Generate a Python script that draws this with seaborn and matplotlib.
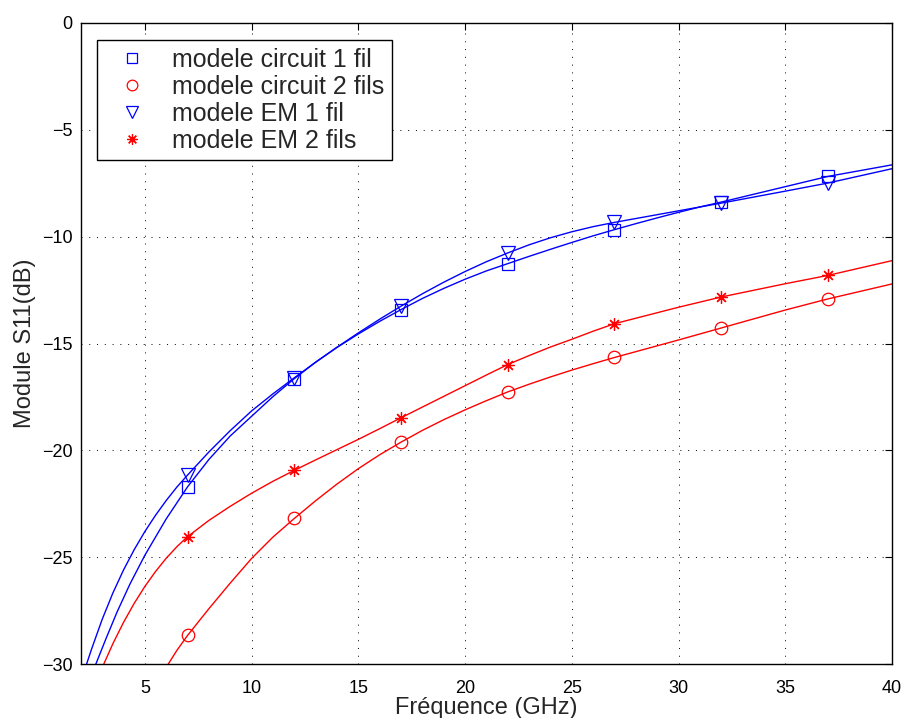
import matplotlib
matplotlib.use("Agg")
import matplotlib.pyplot as plt
from matplotlib.lines import Line2D
import seaborn as sns
import pandas as pd

# ---- data ----
marker_freq = [7, 12, 17, 22, 27, 32, 37]
circuit_1fil_pts = [-21.7, -16.64, -13.41, -11.26, -9.67, -8.38, -7.18]
circuit_2fils_pts = [-28.65, -23.18, -19.61, -17.26, -15.65, -14.27, -12.91]
em_1fil_pts = [-21.15, -16.6, -13.25, -10.76, -9.33, -8.43, -7.49]
em_2fils_pts = [-24.03, -20.93, -18.47, -15.98, -14.07, -12.82, -11.81]

circuit_1fil_freq = [2.7, 3.2, 3.7, 4.3, 5, 6, 7, 8, 9, 10, 11, 12, 13, 14, 15, 16, 17, 18, 19, 20,
                     21, 22, 23, 24, 25, 26, 27, 28, 29, 30, 31, 32, 35, 37, 40]
circuit_1fil_line = [-30.0, -28.75, -27.55, -26.25, -24.9, -23.2, -21.7, -20.42, -19.32, -18.4, -17.48,
                     -16.64, -15.87, -15.18, -14.55, -13.96, -13.41, -12.89, -12.42, -11.99, -11.6,
                     -11.26, -10.92, -10.59, -10.27, -9.96, -9.67, -9.39, -9.12, -8.86, -8.61, -8.38,
                     -7.66, -7.18, -6.64]

circuit_2fils_freq = [6.09, 6.5, 7, 8, 9, 10, 11, 12, 13, 14, 15, 16, 17, 18, 19, 20, 21, 22, 23, 24,
                      25, 26, 27, 30, 32, 35, 37, 40]
circuit_2fils_line = [-30.0, -29.35, -28.65, -27.4, -26.2, -25.05, -24.05, -23.18, -22.35, -21.57,
                      -20.85, -20.2, -19.61, -19.06, -18.56, -18.1, -17.67, -17.26, -16.9, -16.56,
                      -16.24, -15.94, -15.65, -14.83, -14.27, -13.43, -12.91, -12.21]

em_1fil_freq = [2.25, 2.5, 3, 3.5, 4, 4.5, 5, 5.5, 6, 6.5, 7, 8, 9, 10, 11, 12, 13, 14, 15, 16, 17,
                18, 19, 20, 21, 22, 23, 24, 25, 26, 27, 30, 32, 35, 37, 40]
em_1fil_line = [-30.05, -29.3, -27.9, -26.67, -25.59, -24.64, -23.79, -23.03, -22.34, -21.71, -21.15,
                -20.07, -19.07, -18.15, -17.35, -16.6, -15.87, -15.17, -14.5, -13.86, -13.25,
                -12.67, -12.13, -11.63, -11.17, -10.76, -10.38, -10.05, -9.77, -9.53, -9.33,
                -8.79, -8.43, -7.87, -7.49, -6.82]

em_2fils_freq = [3.0, 3.5, 4, 4.5, 5, 5.5, 6, 6.5, 7, 8, 9, 10, 11, 12, 13, 14, 15, 16, 17, 18, 19,
                 20, 21, 22, 23, 24, 25, 26, 27, 30, 32, 35, 37, 40]
em_2fils_line = [-30.16, -29.04, -28.04, -27.15, -26.36, -25.66, -25.04, -24.5, -24.03, -23.27,
                 -22.61, -22.0, -21.44, -20.93, -20.44, -19.96, -19.48, -18.98, -18.47, -17.97,
                 -17.47, -16.97, -16.47, -15.98, -15.56, -15.16, -14.8, -14.42, -14.07, -13.3,
                 -12.82, -12.2, -11.81, -11.12]

labels = ["modele circuit 1 fil", "modele circuit 2 fils", "modele EM 1 fil", "modele EM 2 fils"]
x_ticks = [5, 10, 15, 20, 25, 30, 35, 40]
y_ticks = [0, -5, -10, -15, -20, -25, -30]

# ---- style ----
sns.set_style("white")
plt.rcParams["font.family"] = ["Liberation Sans", "DejaVu Sans"]

fig = plt.figure(figsize=(9.05, 7.18), dpi=100)
ax = fig.add_axes([0.0893, 0.0748, 0.8963, 0.8933])

series = [
    (circuit_1fil_freq, circuit_1fil_line, circuit_1fil_pts, "blue", "s", 8),
    (circuit_2fils_freq, circuit_2fils_line, circuit_2fils_pts, "red", "o", 9),
    (em_1fil_freq, em_1fil_line, em_1fil_pts, "blue", "v", 10),
    (em_2fils_freq, em_2fils_line, em_2fils_pts, "red", (8, 2, 0), 9),
]

handles = []
for (fx, fy, pts, col, mk, ms), lab in zip(series, labels):
    dfl = pd.DataFrame({"f": fx, "v": fy})
    sns.lineplot(data=dfl, x="f", y="v", ax=ax, color=col, linewidth=1.0,
                 sort=False, estimator=None, legend=False)
    dfm = pd.DataFrame({"f": marker_freq, "v": pts})
    sns.lineplot(data=dfm, x="f", y="v", ax=ax, color=col, linestyle="", marker=mk,
                 markersize=ms, markerfacecolor="none", markeredgecolor=col,
                 markeredgewidth=0.9, estimator=None, legend=False)
    handles.append(Line2D([], [], linestyle="", marker=mk, markersize=ms * 0.85,
                          markerfacecolor="none", markeredgecolor=col,
                          color=col, markeredgewidth=0.9, label=lab))

ax.set_xlim(2, 40)
ax.set_ylim(-30, 0)
ax.set_xticks(x_ticks)
ax.set_yticks(y_ticks)
ax.set_xticklabels([str(t) for t in x_ticks])
ax.set_yticklabels([str(t).replace("-", "\u2212") for t in y_ticks])
ax.grid(True, color="black", linestyle=(0, (1, 7)), linewidth=0.7)
ax.tick_params(direction="in", length=5, width=0.8, top=True, right=True,
               labelsize=13, colors="black")
ax.tick_params(axis="x", pad=11)
ax.tick_params(axis="y", pad=6)
for s in ax.spines.values():
    s.set_visible(True)
    s.set_color("black")
    s.set_linewidth(1.0)

ax.set_xlabel("Fréquence (GHz)", fontsize=17, labelpad=0)
ax.set_ylabel("Module S11(dB)", fontsize=17, labelpad=4)

leg = ax.legend(handles=handles, loc="upper left", bbox_to_anchor=(0.02, 0.973),
                fontsize=18, frameon=True, fancybox=False, framealpha=1,
                edgecolor="black", handlelength=2.2, handletextpad=0.5,
                labelspacing=0.12, borderpad=0.3, borderaxespad=0)
leg.get_frame().set_linewidth(1.0)

fig.savefig("out.png", dpi=100)
